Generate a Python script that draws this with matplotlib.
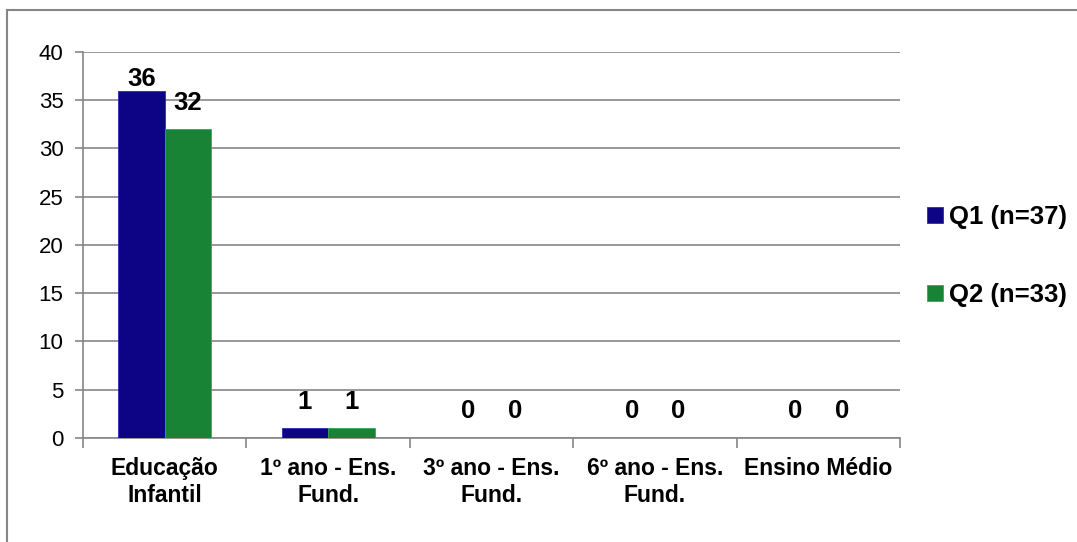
import numpy as np
import matplotlib.pyplot as plt
from matplotlib.patches import Rectangle

plt.rcParams['font.family'] = ['Liberation Sans', 'DejaVu Sans']

# categories and counts for each questionnaire
categorias = ['Educação\nInfantil', '1º ano - Ens.\nFund.', '3º ano - Ens.\nFund.',
              '6º ano - Ens.\nFund.', 'Ensino Médio']
q1 = [36, 1, 0, 0, 0]
q2 = [32, 1, 0, 0, 0]
series_names = ['Q1 (n=37)', 'Q2 (n=33)']

azul = '#0c0484'
verde = '#188235'
cinza = '#868686'

fig = plt.figure(figsize=(10.77, 5.42), dpi=100)
ax = fig.add_axes([0.0771, 0.1919, 0.7586, 0.7122])

x = np.arange(len(categorias))
w = 0.285
b1 = ax.bar(x - w / 2, q1, w, color=azul, edgecolor='#2a2ab0', linewidth=0.6, label=series_names[0], zorder=3)
b2 = ax.bar(x + w / 2, q2, w, color=verde, edgecolor='#3fa05a', linewidth=0.6, label=series_names[1], zorder=3)

# value labels above bars
for bars, vals, offs in [(b1, q1, [0, 10.5, 10.5, 10.5, 10.5]), (b2, q2, [10.5] * 5)]:
    for r, v, o in zip(bars, vals, offs):
        ax.annotate(str(v), (r.get_x() + r.get_width() / 2, v), xytext=(0, o),
                    textcoords='offset points', ha='center', va='bottom',
                    fontsize=18.5, fontweight='bold', color='black')

ax.set_xlim(-0.5, len(categorias) - 0.5)
ax.set_ylim(0, 40)
ax.set_yticks(range(0, 41, 5))
ax.yaxis.grid(True, color=cinza, linewidth=1.2, zorder=0)
ax.set_axisbelow(True)

ax.set_xticks(x)
ax.set_xticklabels(categorias, fontsize=16.5, fontweight='bold', linespacing=1.2)
ax.set_xticks(np.arange(-0.5, len(categorias)), minor=True)
ax.tick_params(axis='x', which='major', length=0, pad=14)
ax.tick_params(axis='x', which='minor', length=7, color=cinza, width=1.2)
ax.tick_params(axis='y', length=6, color=cinza, width=1.2, labelsize=16, pad=8)

for s in ['top', 'right']:
    ax.spines[s].set_visible(False)
for s in ['left', 'bottom']:
    ax.spines[s].set_color(cinza)
    ax.spines[s].set_linewidth(1.2)

fig.legend(loc='center left', bbox_to_anchor=(0.849, 0.527), frameon=False,
           prop={'size': 18.5, 'weight': 'bold'}, handlelength=0.6, handleheight=0.6,
           handletextpad=0.25, labelspacing=2.1, borderpad=0)

# outer chart frame
fig.patches.append(Rectangle((7 / 1077, -0.2), 1.2, 1.2 - 10 / 542, transform=fig.transFigure,
                             fill=False, edgecolor=cinza, linewidth=1.5))

fig.savefig('out.png', dpi=100)
